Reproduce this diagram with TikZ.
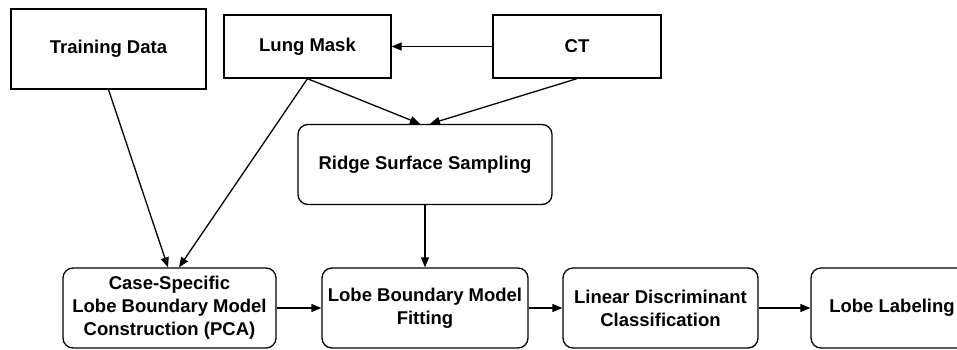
\documentclass[tikz,border=0pt]{standalone}
\usepackage{fontspec}
\setmainfont{Liberation Sans}
\usetikzlibrary{arrows.meta}

\begin{document}
\begin{tikzpicture}[x=1pt, y=-1pt,
    box/.style={draw, line width=1.3pt, inner sep=0pt, align=center,
        minimum height=80pt, font=\bfseries\fontsize{18.5}{23}\selectfont},
    stepbox/.style={box, rounded corners=10pt},
    flow/.style={line width=1.3pt, -{Triangle[length=10pt,width=8pt]}}]
    \useasboundingbox (0,0) rectangle (957,350);
    \clip (0,0) rectangle (957,350);

    % Inputs
    \node[box, minimum width=195pt] (train) at (108.5,49) {Training Data};
    \node[box, minimum width=167pt, minimum height=63pt] (mask) at (307.5,46.5) {Lung Mask};
    \node[box, minimum width=168pt, minimum height=63pt] (ct) at (577,46.5) {CT};
    \node[stepbox, minimum width=254pt] (ridge) at (425,164.5) {Ridge Surface Sampling};

    % Pipeline
    \node[stepbox, minimum width=213pt] (case) at (169.5,308) {Case-Specific\\Lobe Boundary Model\\Construction (PCA)};
    \node[stepbox, minimum width=206pt] (fit) at (425,308) {Lobe Boundary Model\\Fitting};
    \node[stepbox, minimum width=195pt] (lda) at (660.5,308) {Linear Discriminant\\Classification};
    \node[stepbox, minimum width=162pt] (label) at (892,308) {Lobe Labeling};

    % Connectors
    \draw[flow] (ct) -- (mask);
    \draw[flow] (mask.south) -- ([xshift=-5pt]ridge.north);
    \draw[flow] (ct.south) -- ([xshift=5pt]ridge.north);
    \draw[flow] (train.south) -- ([xshift=-1.5pt]case.north);
    \draw[flow] (mask.south) -- ([xshift=9.5pt]case.north);
    \draw[flow] (ridge) -- (fit);
    \foreach \a/\b in {case/fit, fit/lda, lda/label}
        \draw[flow] (\a) -- (\b);
\end{tikzpicture}
\end{document}
